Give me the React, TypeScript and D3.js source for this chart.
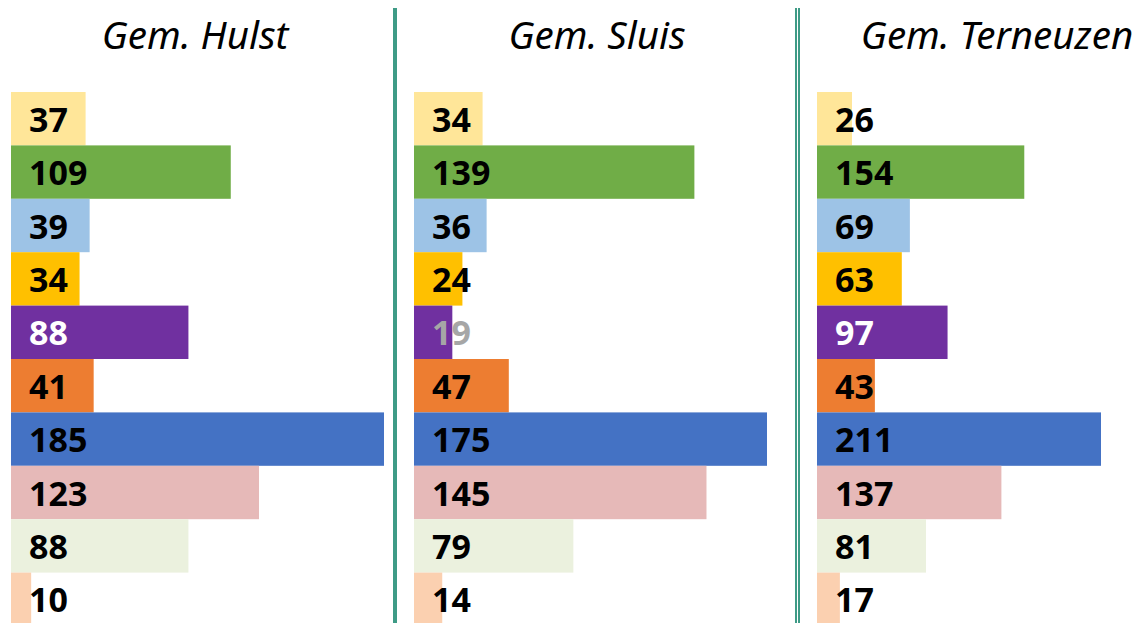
import React from "react";
import * as d3 from "d3";

const categories = ["c1", "c2", "c3", "c4", "c5", "c6", "c7", "c8", "c9", "c10"];
const colors = ["#FFE699", "#70AD47", "#9DC3E6", "#FFC000", "#7030A0", "#ED7D31", "#4472C4", "#E6B9B8", "#EBF1DE", "#FBD0B0"];
const titles = ["Gem. Hulst", "Gem. Sluis", "Gem. Terneuzen"];
const hulst = [37, 109, 39, 34, 88, 41, 185, 123, 88, 10];
const sluis = [34, 139, 36, 24, 19, 47, 175, 145, 79, 14];
const terneuzen = [26, 154, 69, 63, 97, 43, 211, 137, 81, 17];
const labelColorsHulst = ["#000", "#000", "#000", "#000", "#fff", "#000", "#000", "#000", "#000", "#000"];
const labelColorsSluis = ["#000", "#000", "#000", "#000", "#A6A6A6", "#000", "#000", "#000", "#000", "#000"];
const labelColorsTerneuzen = ["#000", "#000", "#000", "#000", "#fff", "#000", "#000", "#000", "#000", "#000"];

const W = 1146;
const H = 623;

const panels = [
  { title: titles[0], values: hulst, labels: labelColorsHulst, x0: 11, maxVal: 185, maxX: 384, cx: 195 },
  { title: titles[1], values: sluis, labels: labelColorsSluis, x0: 414, maxVal: 175, maxX: 767, cx: 597 },
  { title: titles[2], values: terneuzen, labels: labelColorsTerneuzen, x0: 817, maxVal: 211, maxX: 1101, cx: 997 },
];

export default function App() {
  const y = d3.scaleBand<string>().domain(categories).range([92, 626]).padding(0);
  return (
    <svg width={W} height={H} style={{ position: "absolute", left: 0, top: 0, display: "block" }}>
      <rect x={0} y={0} width={W} height={H} fill="#fff" />
      {panels.map((p, pi) => {
        const x = d3.scaleLinear().domain([0, p.maxVal]).range([p.x0, p.maxX]);
        return (
          <g key={pi}>
            <text
              x={p.cx}
              y={49}
              textAnchor="middle"
              fontFamily="'Noto Sans', sans-serif"
              fontStyle="italic"
              fontSize={38.5}
              fill="#000"
            >
              {p.title}
            </text>
            {categories.map((c, i) => (
              <rect
                key={c}
                x={x(0)}
                y={y(c)!}
                width={x(p.values[i]) - x(0)}
                height={y.bandwidth()}
                fill={colors[i]}
              />
            ))}
            {categories.map((c, i) => (
              <text
                key={c + "l"}
                x={x(0) + 18}
                y={y(c)! + y.bandwidth() / 2 + 13}
                fontFamily="'Noto Sans', sans-serif"
                fontWeight="bold"
                fontSize={34}
                fill={p.labels[i]}
              >
                {p.values[i]}
              </text>
            ))}
          </g>
        );
      })}
      <rect x={393} y={8} width={4} height={H - 8} fill="#3E9B86" />
      <rect x={795} y={8} width={2} height={H - 8} fill="#3E9B86" />
      <rect x={798} y={8} width={2} height={H - 8} fill="#3E9B86" />
    </svg>
  );
}
